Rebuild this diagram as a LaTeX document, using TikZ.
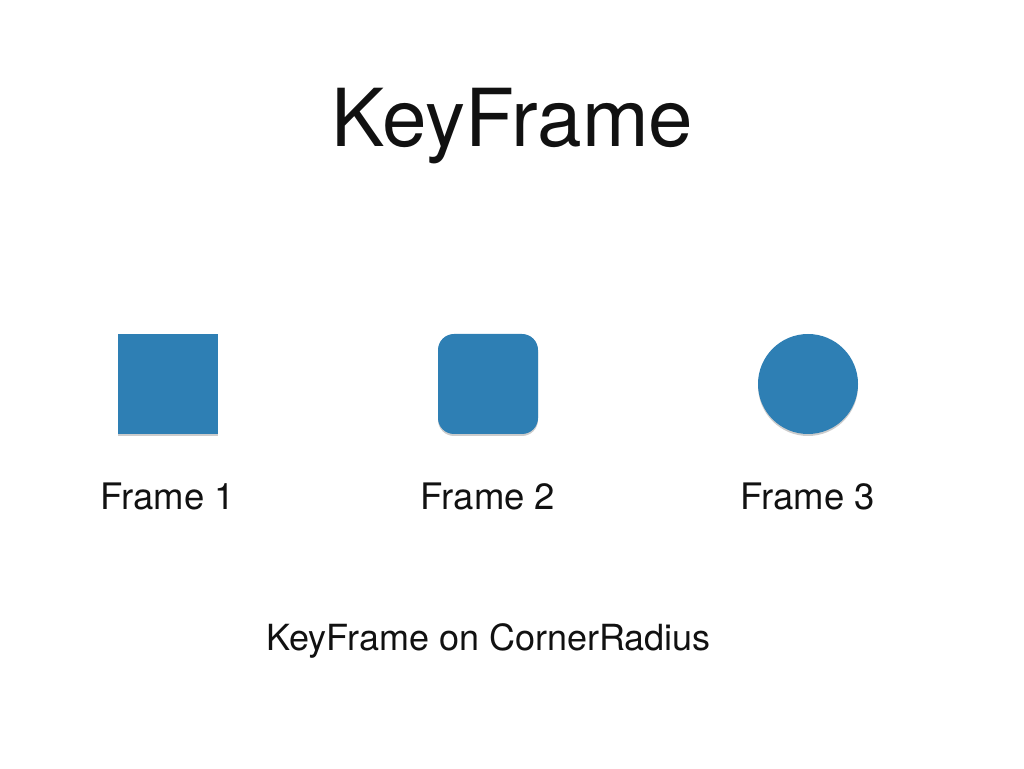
\documentclass[tikz,border=0pt]{standalone}
\usepackage{fontspec}
\setmainfont{TeX Gyre Heros}
\usepackage{xcolor}
\usetikzlibrary{shadows}
\definecolor{tile}{HTML}{2E7FB4}
\definecolor{ink}{HTML}{111111}

\begin{document}
\begin{tikzpicture}[x=1pt, y=1pt,
    tilebox/.style={fill=tile, draw=none, minimum size=100pt, inner sep=0pt,
      drop shadow={shadow xshift=0pt, shadow yshift=-2pt, opacity=0.2, fill=black}},
    caption/.style={ink, anchor=base, font=\fontsize{36.5}{42}\selectfont}]
    \useasboundingbox (0,0) rectangle (1024,768);
    % Title.
    \node[ink, anchor=base, font=\fontsize{80}{96}\selectfont] (title) at (512.5,621) {KeyFrame};
    % The three frames: the corner radius grows from none to a circle.
    \node[tilebox, rectangle] (f1) at (168,384) {};
    \node[tilebox, rectangle, rounded corners=16pt] (f2) at (488,384) {};
    \node[tilebox, circle] (f3) at (808,384) {};
    \foreach \i/\x in {1/167.5, 2/488, 3/807.5} {
      \node[caption] (l\i) at (\x,258) {Frame \i};
    }
    % Note below.
    \node[caption, font=\fontsize{36}{42}\selectfont] (note) at (488.5,118) {KeyFrame on CornerRadius};
  \end{tikzpicture}
\end{document}
